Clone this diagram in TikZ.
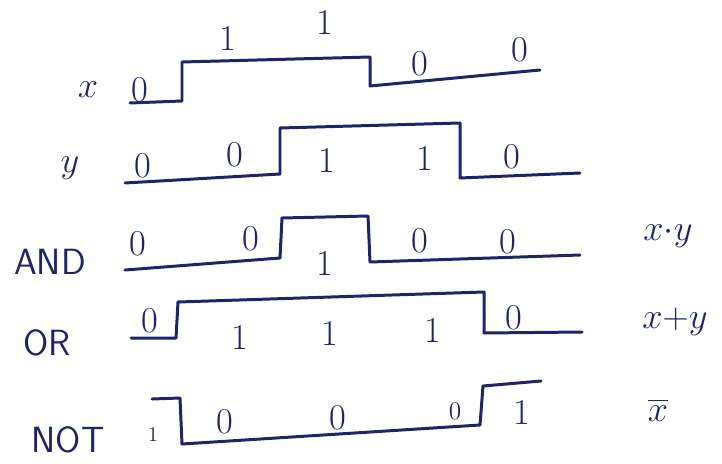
\documentclass[tikz,border=0pt]{standalone}
\usepackage{amsmath}
\usepackage{xcolor}
\usepackage{tikz}
\usetikzlibrary{positioning}
\definecolor{ctinta}{HTML}{1E2466}
\tikzset{
  onda/.style={line width=1.7pt, draw=ctinta, line join=round, line cap=round},
  bit/.style={font=\huge, text=ctinta, inner sep=1pt},
  senal/.style={font=\huge, text=ctinta, inner sep=1pt},
  puerta/.style={font=\huge\sffamily, text=ctinta, inner sep=1pt},
  expr/.style={font=\huge, text=ctinta, inner sep=1pt},
}
\begin{document}
\begin{tikzpicture}[x=0.02cm, y=-0.02cm]
  \useasboundingbox (0,0) rectangle (722,463);
  % x
  \node[senal] (lx) at (88,90) {$x$};
  \draw[onda] (130,103) -- (182,101) -- (182,62) -- (370,57) -- (370,86) -- (540,70);
  \node[bit] (x1) at (140,90) {0};
  \node[bit] (x2) at (228,38) {1};
  \node[bit] (x3) at (325,22) {1};
  \node[bit] (x4) at (420,64) {0};
  \node[bit] (x5) at (520,50) {0};
  % y
  \node[senal] (ly) at (70,168) {$y$};
  \draw[onda] (125,183) -- (280,174) -- (280,128) -- (460,123) -- (460,178) -- (580,173);
  \node[bit] (y1) at (143,166) {0};
  \node[bit] (y2) at (235,155) {0};
  \node[bit] (y3) at (327,160) {1};
  \node[bit] (y4) at (425,158) {1};
  \node[bit] (y5) at (512,157) {0};
  % AND
  \node[puerta] (land) at (50,262) {AND};
  \draw[onda] (125,270) -- (280,258) -- (282,218) -- (368,216) -- (370,262) -- (580,255);
  \node[bit] (a1) at (138,244) {0};
  \node[bit] (a2) at (251,239) {0};
  \node[bit] (a3) at (325,263) {1};
  \node[bit] (a4) at (420,241) {0};
  \node[bit] (a5) at (508,242) {0};
  \node[expr] (ea) at (668,236) {$x{\cdot}y$};
  % OR
  \node[puerta] (lor) at (47,343) {OR};
  \draw[onda] (131,338) -- (176,338) -- (178,302) -- (484,292) -- (484,333) -- (582,332);
  \node[bit] (o1) at (150,321) {0};
  \node[bit] (o2) at (240,337) {1};
  \node[bit] (o3) at (330,333) {1};
  \node[bit] (o4) at (433,330) {1};
  \node[bit] (o5) at (514,318) {0};
  \node[expr] (eo) at (675,322) {$x{+}y$};
  % NOT
  \node[puerta] (lnot) at (68,440) {NOT};
  \draw[onda] (152,399) -- (180,398) -- (182,444) -- (480,425) -- (483,386) -- (541,381);
  \node[bit, font=\large] (n1) at (153,434) {1};
  \node[bit] (n2) at (225,422) {0};
  \node[bit] (n3) at (338,418) {0};
  \node[bit, font=\Large] (n4) at (455,411) {0};
  \node[bit] (n5) at (522,412) {1};
  \node[expr] (en) at (658,410) {$\overline{x}$};
\end{tikzpicture}
\end{document}
